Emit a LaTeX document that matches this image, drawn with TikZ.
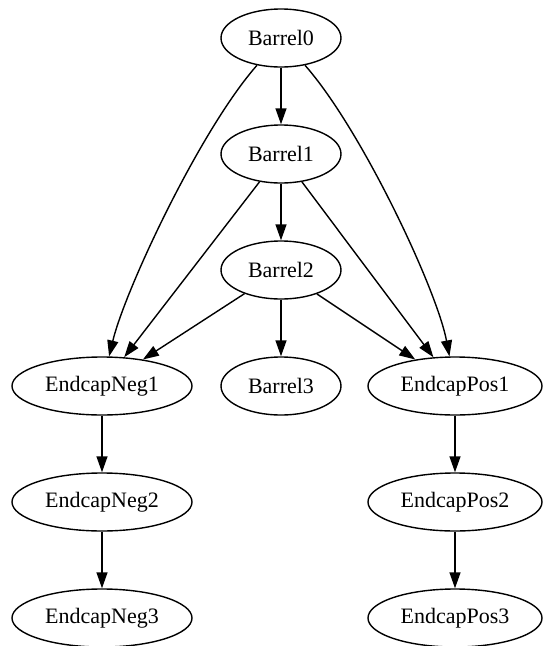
\documentclass[tikz,border=0pt]{standalone}
\usepackage{fontspec}
\setmainfont{Liberation Serif}
\usetikzlibrary{shapes.geometric,arrows.meta}
\begin{document}
\begin{tikzpicture}[x=1pt,y=-1pt,
  gnode/.style={draw, ellipse, line width=1.4pt, inner sep=0pt, minimum height=58pt, font=\fontsize{22}{24}\selectfont},
  barrelnode/.style={gnode, minimum width=120pt},
  negnode/.style={gnode, minimum width=180pt},
  posnode/.style={gnode, minimum width=174pt},
  conn/.style={-{Triangle[length=16pt,width=11pt]}, line width=1.4pt}]
\useasboundingbox (0,0) rectangle (543,646);
\node[barrelnode] (b0) at (281,38) {Barrel0};
\node[barrelnode] (b1) at (281,154) {Barrel1};
\node[barrelnode] (b2) at (281,270) {Barrel2};
\node[barrelnode] (b3) at (281,386) {Barrel3};
\node[negnode] (n1) at (102,386) {EndcapNeg1};
\node[negnode] (n2) at (102,502) {EndcapNeg2};
\node[negnode] (n3) at (102,618) {EndcapNeg3};
\node[posnode] (p1) at (455,386) {EndcapPos1};
\node[posnode] (p2) at (455,502) {EndcapPos2};
\node[posnode] (p3) at (455,618) {EndcapPos3};
\draw[conn] (b0) -- (b1);
\draw[conn] (b1) -- (b2);
\draw[conn] (b2) -- (b3);
\draw[conn] (b0) .. controls (200,130) and (125,290) .. (n1);
\draw[conn] (b0) .. controls (362,130) and (437,290) .. (p1);
\draw[conn] (b1) -- (n1);
\draw[conn] (b1) -- (p1);
\draw[conn] (b2) -- (n1);
\draw[conn] (b2) -- (p1);
\draw[conn] (n1) -- (n2);
\draw[conn] (n2) -- (n3);
\draw[conn] (p1) -- (p2);
\draw[conn] (p2) -- (p3);
\end{tikzpicture}
\end{document}
